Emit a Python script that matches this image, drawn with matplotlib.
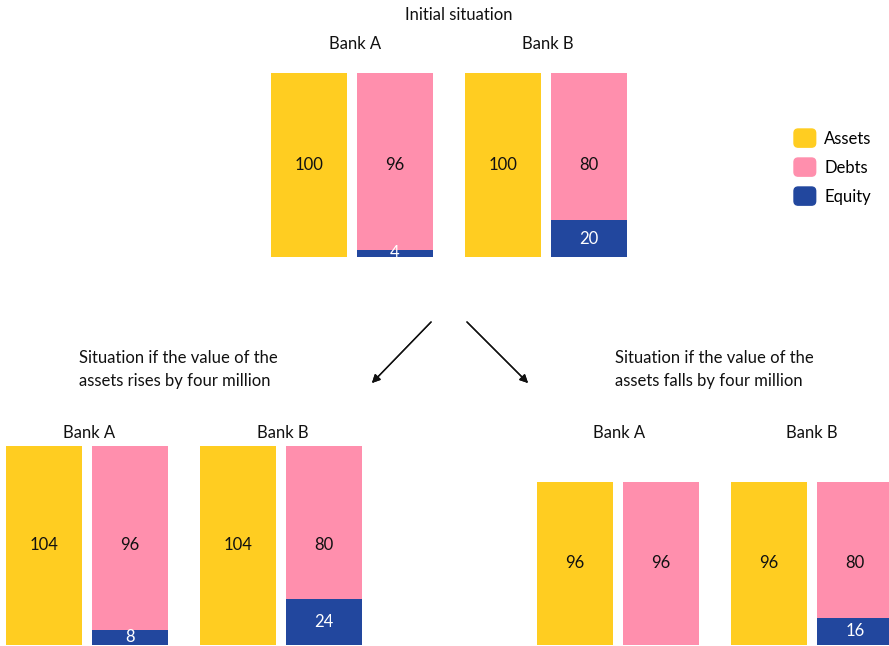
import matplotlib.pyplot as plt
from matplotlib.patches import Patch, FancyBboxPatch
from matplotlib.legend_handler import HandlerPatch

plt.rcParams['font.family'] = ['Lato', 'DejaVu Sans']

W, H = 889, 646

# Balance sheets (millions): [Bank A, Bank B]
assets_initial = [100, 100]
debts_initial = [96, 80]
equity_initial = [4, 20]

assets_rise = [104, 104]
debts_rise = [96, 80]
equity_rise = [8, 24]

assets_fall = [96, 96]
debts_fall = [96, 80]
equity_fall = [0, 16]

banks = ['Bank A', 'Bank B']

c_assets = '#FFCD21'
c_debts = '#FF8FAD'
c_equity = '#22479E'
c_text = '#111111'
fs = 12

fig = plt.figure(figsize=(W / 100, H / 100), dpi=100)


def fig_text(x, y, s, **kw):
    fig.text(x / W, 1 - y / H, s, color=c_text, **kw)


def panel(left, top, bottom, assets, debts, equity):
    # one axes per scenario, x laid out in pixels, y in millions
    ax = fig.add_axes([left / W, 1 - bottom / H, 356 / W, (bottom - top) / H])
    ax.set_xlim(0, 356)
    ax.set_ylim(0, max(assets))
    ax.axis('off')
    for i in range(2):
        xa = 38 + i * 194
        xd = xa + 86
        ax.bar(xa, assets[i], width=76, color=c_assets)
        ax.bar(xd, equity[i], width=76, color=c_equity)
        ax.bar(xd, debts[i], width=76, bottom=equity[i], color=c_debts)
        mid = max(assets) / 2
        ax.text(xa, mid, f'{assets[i]}', ha='center', va='center',
                fontsize=fs, color=c_text)
        ax.text(xd, mid, f'{debts[i]}', ha='center', va='center',
                fontsize=fs, color=c_text)
        if equity[i] > 0:
            ax.text(xd, equity[i] / 2, f'{equity[i]}', ha='center',
                    va='center', fontsize=fs, color='white')
    return ax


# Initial situation
fig_text(459, 15, 'Initial situation', ha='center', va='center', fontsize=fs)
fig_text(355, 44, banks[0], ha='center', va='center', fontsize=fs)
fig_text(548, 44, banks[1], ha='center', va='center', fontsize=fs)
panel(271, 73, 257, assets_initial, debts_initial, equity_initial)

# Arrows to both scenarios
for x0, x1 in [(433, 370), (465, 530)]:
    fig.add_artist(plt.annotate('', xy=(x1 / W, 1 - 385 / H), xytext=(x0 / W, 1 - 320 / H),
                                xycoords='figure fraction', textcoords='figure fraction',
                                arrowprops=dict(arrowstyle='-|>', color=c_text, lw=1,
                                                mutation_scale=12)))

# Assets rise
fig_text(79, 369.5, 'Situation if the value of the\nassets rises by four million',
         ha='left', va='center', fontsize=fs, linespacing=1.6)
fig_text(89, 433, banks[0], ha='center', va='center', fontsize=fs)
fig_text(283, 433, banks[1], ha='center', va='center', fontsize=fs)
panel(6, 446, 645, assets_rise, debts_rise, equity_rise)

# Assets fall
fig_text(615, 369.5, 'Situation if the value of the\nassets falls by four million',
         ha='left', va='center', fontsize=fs, linespacing=1.6)
fig_text(619, 433, banks[0], ha='center', va='center', fontsize=fs)
fig_text(812, 433, banks[1], ha='center', va='center', fontsize=fs)
panel(537, 482, 645, assets_fall, debts_fall, equity_fall)


# Legend with rounded swatches
def rounded_square(legend, orig_handle, xdescent, ydescent, width, height, fontsize):
    return FancyBboxPatch((-xdescent, -ydescent), width, height,
                          boxstyle='round,pad=0,rounding_size=3')


handles = [Patch(color=c_assets, label='Assets'),
           Patch(color=c_debts, label='Debts'),
           Patch(color=c_equity, label='Equity')]
fig.legend(handles=handles, loc='upper left', bbox_to_anchor=(794 / W, 1 - 129 / H),
           frameon=False, fontsize=fs, handlelength=1.3, handleheight=1.3,
           handletextpad=0.5, labelspacing=0.65, borderpad=0, borderaxespad=0,
           handler_map={Patch: HandlerPatch(patch_func=rounded_square)})

plt.savefig('out.png', dpi=100, facecolor='white')
plt.close()
